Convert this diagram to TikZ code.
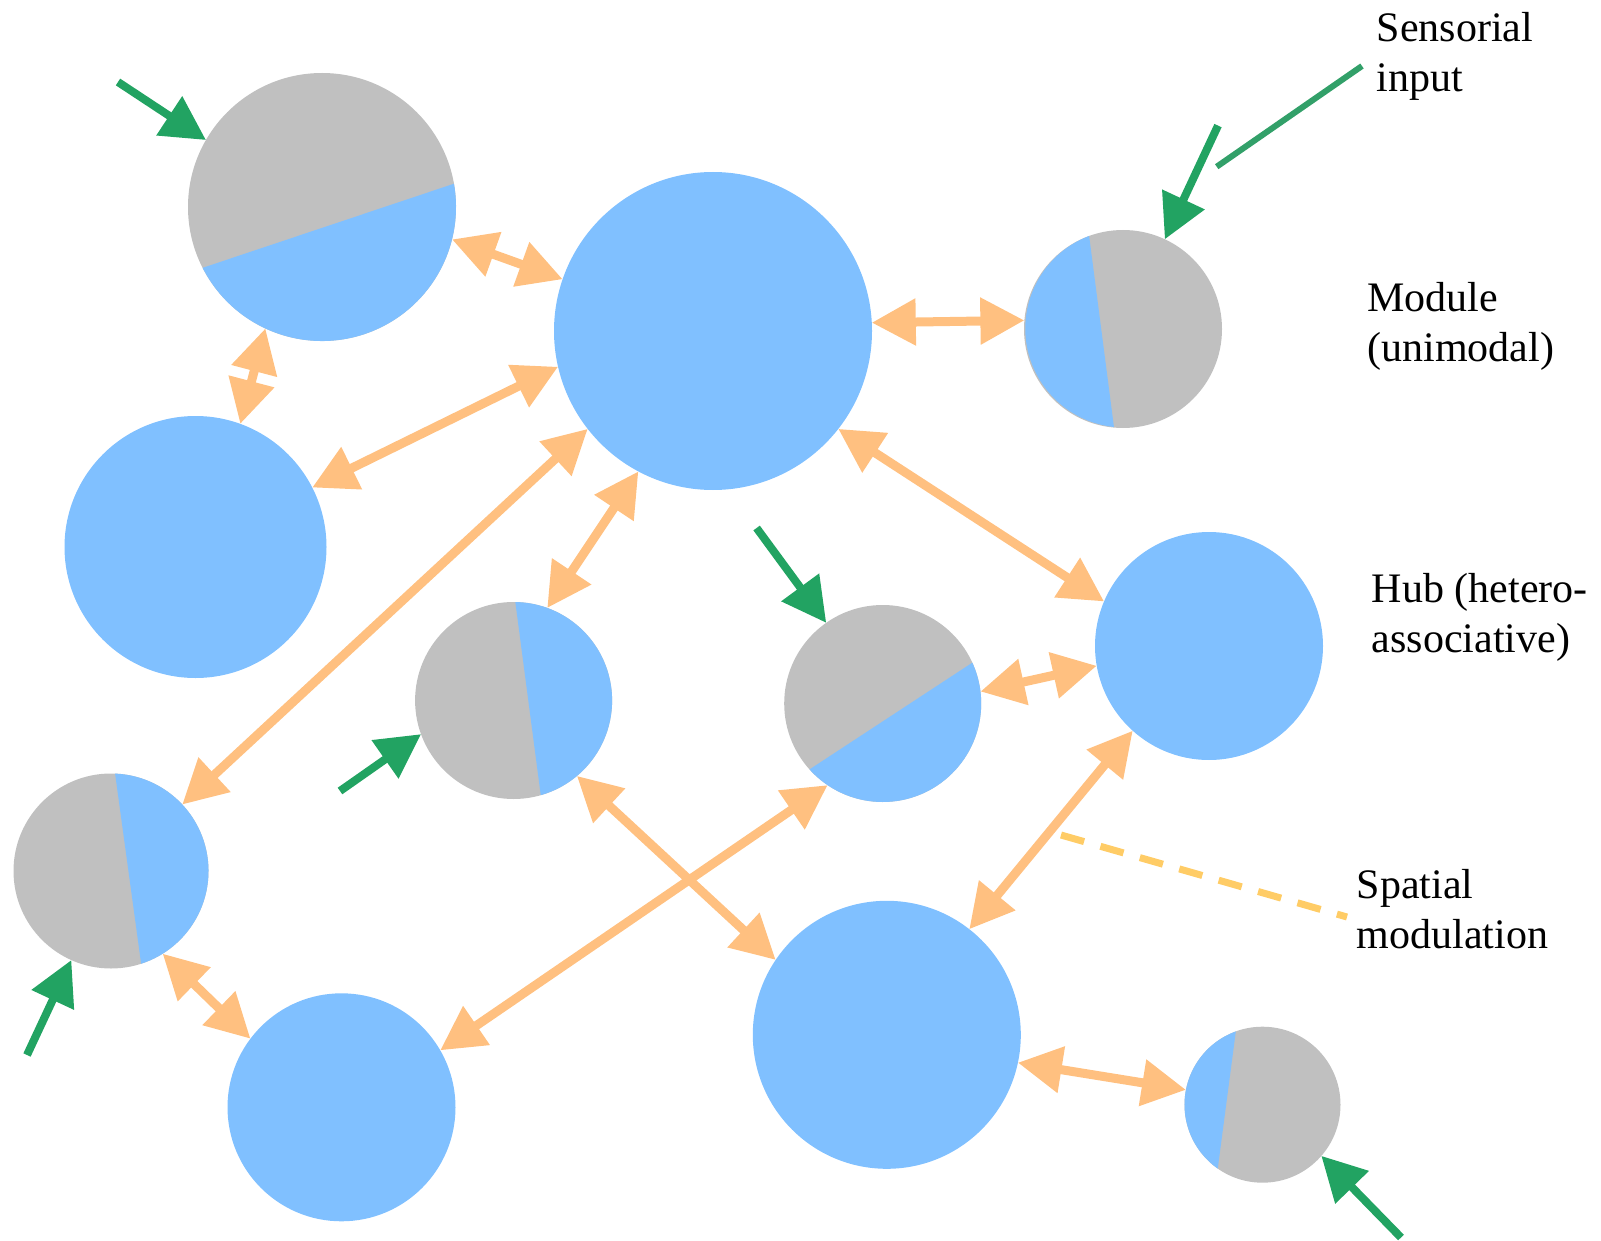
\documentclass[tikz,border=0pt]{standalone}
\usepackage{fontspec}
\setmainfont{Liberation Serif}
\usetikzlibrary{arrows.meta}
\definecolor{hubblue}{RGB}{128,192,255}
\definecolor{modgray}{RGB}{192,192,192}
\definecolor{linkorange}{RGB}{255,192,128}
\definecolor{inputgreen}{RGB}{34,163,98}
\definecolor{leadgreen}{RGB}{50,160,105}
\definecolor{spatyellow}{RGB}{255,204,102}
\newcommand{\bluepart}[4]{\fill[hubblue] (#1.#2) arc[start angle=#2, end angle=#3, radius=#4] -- cycle;}

\begin{document}
\begin{tikzpicture}[
            x = 1pt, y = 1pt, % one unit per pixel
            > = {Triangle[length=44pt, width=45pt]}, % arrow head style
            hubnode/.style = {circle, fill=hubblue, inner sep=0pt, outer sep=0pt},
            modnode/.style = {circle, fill=modgray, inner sep=0pt, outer sep=0pt},
            assoc/.style = {<->, draw=linkorange, line width=9pt},
            sensin/.style = {->, draw=inputgreen, line width=8pt},
            legend/.style = {anchor=base west, align=left, inner sep=0pt,
                font=\fontsize{42}{50}\selectfont}, % base = last line
        ]
        \useasboundingbox (0,0) rectangle (1601,-1241);

        % modules (half gray, half blue)
        \node[modnode, minimum size=268pt] (ma) at (322,-207) {};
        \node[modnode, minimum size=198pt] (mb) at (1123,-329) {};
        \node[modnode, minimum size=197pt] (mc) at (513.6,-700.5) {};
        \node[modnode, minimum size=197pt] (md) at (882.7,-703.5) {};
        \node[modnode, minimum size=195pt] (me) at (111,-871) {};
        \node[modnode, minimum size=156pt] (mf) at (1262.5,-1104.7) {};
        \bluepart{ma}{207}{370}{134pt}
        \bluepart{mb}{110.8}{264}{99pt}
        \bluepart{mc}{286}{449}{98.5pt}
        \bluepart{md}{222}{384.5}{98.5pt}
        \bluepart{me}{288}{447.6}{97.5pt}
        \bluepart{mf}{110}{235}{78pt}

        % hubs
        \node[hubnode, minimum size=318pt] (ha) at (713,-331) {};
        \node[hubnode, minimum size=262pt] (hb) at (195.5,-547) {};
        \node[hubnode, minimum size=228pt] (hc) at (1209,-646) {};
        \node[hubnode, minimum size=228pt] (hd) at (341.5,-1107.3) {};
        \node[hubnode, minimum size=268pt] (he) at (886.8,-1034.8) {};

        \draw[assoc] (ma.346.4) -- (ha.161.7);
        \draw[assoc] (ma.245.9) -- (hb.70.3);
        \draw[assoc] (ha.3.5) -- (mb.175.4);
        \draw[assoc] (ha.193.8) -- (hb.27);
        \draw[assoc] (ha.218.4) -- (me.43.6);
        \draw[assoc] (ha.242) -- (mc.70.8);
        \draw[assoc] (ha.322.5) -- (hc.157.3);
        \draw[assoc] (md.7.8) -- (hc.190.9);
        \draw[assoc] (hc.228.3) -- (he.52.3);
        \draw[assoc] (mc.310.2) -- (he.146.3);
        \draw[assoc] (md.236.9) -- (hd.30);
        \draw[assoc] (me.302.5) -- (hd.143);
        \draw[assoc] (he.348.5) -- (mf.169.4);

        % sensorial inputs
        \coordinate (sa) at (118,-82);
        \coordinate (sb) at (1218,-125.6);
        \coordinate (sc) at (756.6,-528);
        \coordinate (sd) at (340,-791);
        \coordinate (se) at (27,-1055);
        \coordinate (sf) at (1401,-1237.5);
        \draw[sensin] (sa) -- (ma.150);
        \draw[sensin] (sb) -- (mb.65.2);
        \draw[sensin] (sc) -- (md.125);
        \draw[sensin] (sd) -- (mc.200.6);
        \draw[sensin] (se) -- (me.246.9);
        \draw[sensin] (sf) -- (mf.319.2);

        % legend
        \node[legend] (sens) at (1376.7,-91.2) {Sensorial\\input};
        \node[legend] (modl) at (1367.3,-361.7) {Module\\(unimodal)};
        \node[legend] (hubl) at (1371.7,-652.5) {Hub (hetero-\\associative)};
        \node[legend] (spat) at (1356.7,-948.3) {Spatial\\modulation};
        \coordinate (la) at (1216.7,-166.7);
        \coordinate (lb) at (1362,-66);
        \coordinate (lc) at (1061,-835);
        \coordinate (ld) at (1347,-917);
        \draw[leadgreen, line width=6pt] (la) -- (lb);
        \draw[spatyellow, line width=7pt, dash pattern=on 24pt off 17pt] (lc) -- (ld);
    \end{tikzpicture}
\end{document}
